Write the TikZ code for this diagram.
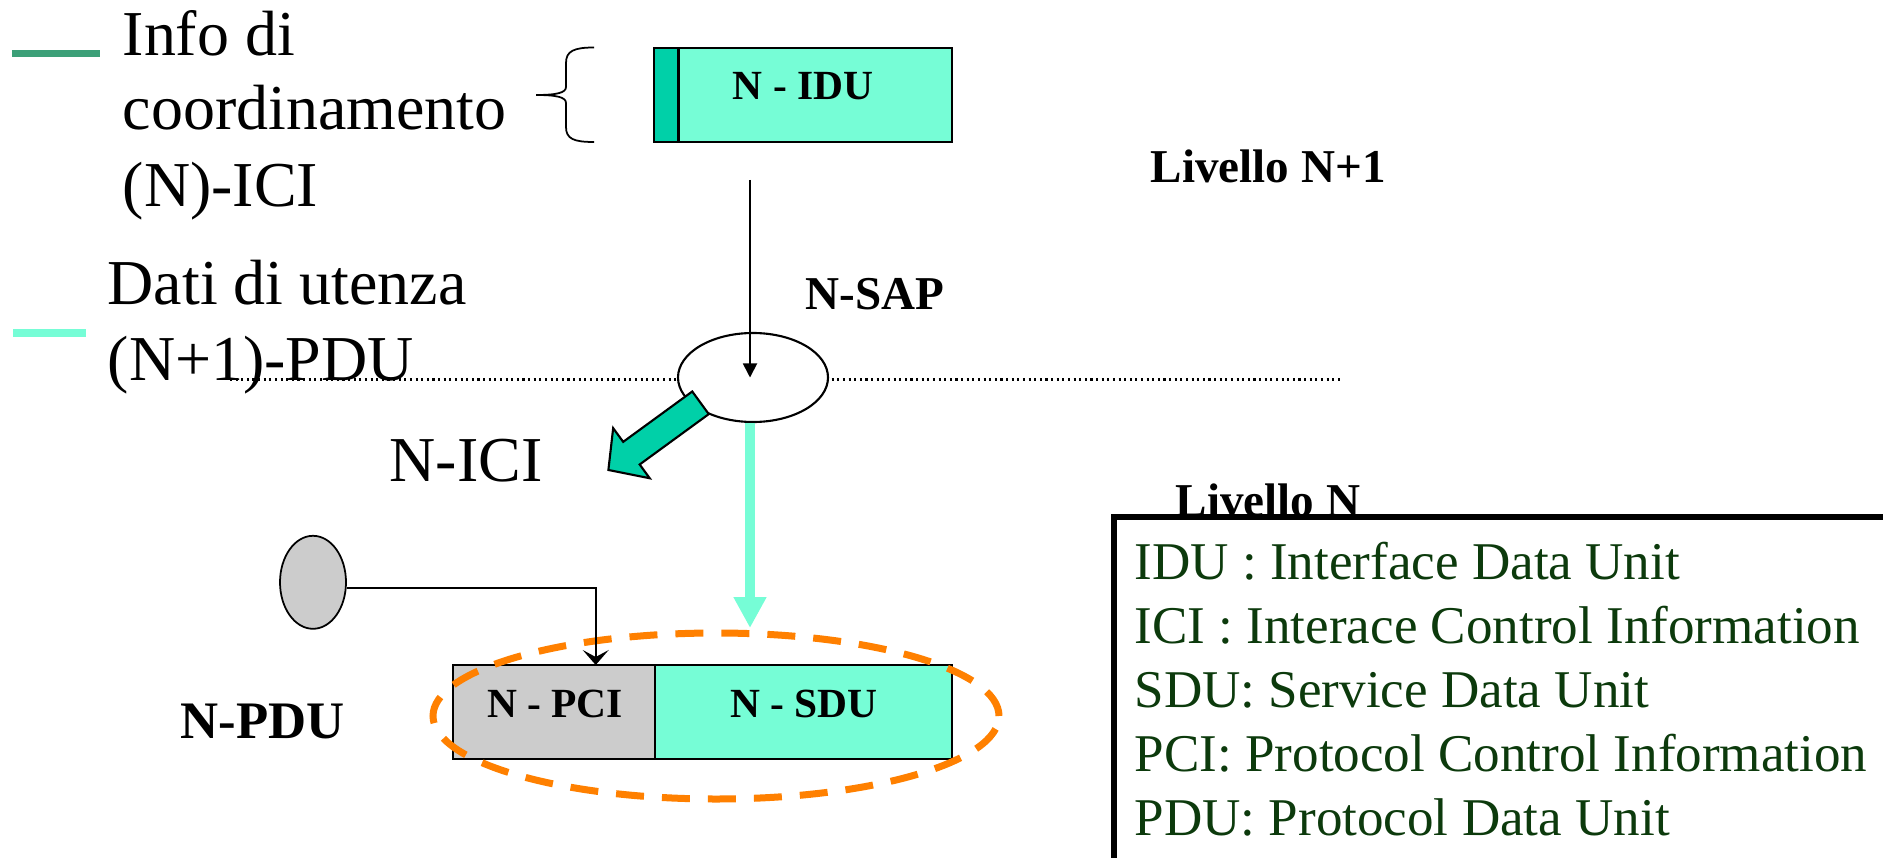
\documentclass[tikz,border=0pt]{standalone}
\usepackage{fontspec}
\setmainfont{Liberation Serif}
\usepackage{xcolor}
\usepackage{tikz}
\usetikzlibrary{arrows.meta,shapes.geometric}
\definecolor{sduaqua}{RGB}{118,253,214}
\definecolor{icigreen}{RGB}{0,208,168}
\definecolor{swatchgreen}{RGB}{60,160,120}
\definecolor{pcigray}{RGB}{204,204,204}
\definecolor{ringorange}{RGB}{255,128,0}
\definecolor{legendgreen}{RGB}{12,58,12}
\tikzset{% 
  big text/.style={%
    anchor=base west,
    inner sep=0pt,
    font=\fontsize{18.2}{21.6}\selectfont
  }
}
\tikzset{% 
  level label/.style={%
    anchor=base west,
    inner sep=0pt,
    font=\fontsize{13.4}{16}\selectfont\bfseries
  }
}
\tikzset{% 
  legend entry/.style={%
    anchor=base west,
    inner sep=0pt,
    text=legendgreen,
    font=\fontsize{15.1}{18}\selectfont
  }
}
\tikzset{% 
  unit box/.style={%
    draw,
    line width=0.6pt,
    rectangle,
    inner sep=0pt,
    outer sep=0pt,
    minimum height=0.94cm
  }
}
\tikzset{% 
  box label/.style={%
    inner sep=0pt,
    font=\fontsize{11.8}{14}\selectfont\bfseries
  }
}
\tikzset{% 
  control arrow/.style={%
    line width=0.5pt,
    -{Triangle[width=0.14cm,length=0.14cm]}
  }
}
\tikzset{% 
  pci arrow/.style={%
    line width=0.5pt,
    -{Stealth[width=0.26cm,length=0.15cm,inset=0.07cm]}
  }
}
\tikzset{% 
  sdu arrow/.style={%
    draw=sduaqua,
    line width=0.10cm,
    -{Triangle[width=0.31cm,length=0.31cm]}
  }
}
\tikzset{% 
  ici arrow/.style={%
    draw=black,
    fill=icigreen,
    line width=0.6pt,
    line join=miter
  }
}
\tikzset{% 
  pdu ring/.style={%
    ellipse,
    draw=ringorange,
    line width=0.07cm,
    dash pattern=on 0.28cm off 0.18cm,
    inner sep=0pt
  }
}

\begin{document}
\begin{tikzpicture}
  \useasboundingbox (0,0) rectangle (18.83,8.57);
  \clip (0,0) rectangle (18.83,8.57);
  % legenda
  \draw [line width=0.07cm,swatchgreen] (0.12,8.035) -- (1.00,8.035);
  \node [big text] (info) at (1.22,8.01) {Info di};
  \node [big text] (coord) at (1.22,7.27) {coordinamento};
  \node [big text] (nici) at (1.22,6.50) {(N)-ICI};
  \draw [line width=0.08cm,sduaqua] (0.13,5.24) -- (0.86,5.24);
  \node [big text] (dati) at (1.07,5.52) {Dati di utenza};
  \node [big text] (npdu) at (1.07,4.76) {(N+1)-PDU};
  \draw [line width=0.5pt] (5.94,8.095) .. controls (5.74,8.095) and (5.66,8.06) .. (5.66,7.94)
    -- (5.66,7.70) .. controls (5.66,7.64) and (5.56,7.62) .. (5.36,7.62)
    .. controls (5.56,7.62) and (5.66,7.60) .. (5.66,7.54)
    -- (5.66,7.30) .. controls (5.66,7.18) and (5.74,7.15) .. (5.94,7.15);
  % livello N+1
  \node [unit box,fill=sduaqua,minimum width=2.98cm] (idu) at (8.03,7.62) {};
  \draw [fill=icigreen,line width=0.6pt] (idu.north west) rectangle ([xshift=0.245cm]idu.south west);
  \node [box label] (idutext) at (8.03,7.705) {N - IDU};
  \node [level label] (upper) at (11.50,6.74) {Livello N+1};
  \node [level label] (saptext) at (8.05,5.48) {N-SAP};
  % confine tra i livelli
  \draw [densely dotted,line width=0.6pt] (2.30,4.775) -- (13.43,4.775);
  \node [ellipse,draw,fill=white,line width=0.6pt,inner sep=0pt,
    minimum width=1.50cm,minimum height=0.89cm] (sap) at (7.53,4.795) {};
  \coordinate (sapin) at (7.50,6.77);
  \draw [control arrow] (sapin) -- ([xshift=-0.03cm]sap.center);
  \begin{scope}[shift={(7.005,4.542)},rotate=216.1]
    \draw [ici arrow] (0,0.14) -- (0.855,0.14) -- (0.855,0.31) -- (1.14,0)
      -- (0.855,-0.31) -- (0.855,-0.14) -- (0,-0.14) -- cycle;
  \end{scope}
  \node [big text] (icitext) at (3.89,3.76) {N-ICI};
  % livello N
  \node [unit box,fill=pcigray,minimum width=2.02cm] (pci) at (5.537,1.45) {};
  \node [unit box,fill=sduaqua,minimum width=2.973cm,anchor=west] (sdu) at (pci.east) {};
  \node [box label] (pcitext) at (5.55,1.53) {N - PCI};
  \node [box label] (sdutext) at (8.04,1.53) {N - SDU};
  \node [pdu ring,minimum width=5.66cm,minimum height=1.66cm] (ring) at (7.16,1.41) {};
  \coordinate (sduin) at (7.50,2.29);
  \draw [sdu arrow] ([xshift=-0.03cm]sap.south) -- (sduin);
  \node [ellipse,draw,fill=pcigray,line width=0.5pt,inner sep=0pt,
    minimum width=0.66cm,minimum height=0.93cm] (pcisrc) at (3.13,2.747) {};
  \draw [pci arrow] ([yshift=-0.06cm]pcisrc.east) -| ([xshift=0.42cm]pci.north);
  \node [level label,font=\fontsize{15}{18}\selectfont\bfseries] (pdutext) at (1.80,1.19) {N-PDU};
  \node [level label] (lower) at (11.75,3.41) {Livello N};
  % glossario
  \draw [line width=0.06cm] (11.14,-0.5) -- (11.14,3.405) -- (19.5,3.405);
  \foreach \entry [count=\i from 0] in {IDU : Interface Data Unit,
      ICI : Interace Control Information,
      SDU: Service Data Unit,
      PCI: Protocol Control Information,
      PDU: Protocol Data Unit}
    \node [legend entry] (gloss\i) at (11.34,2.78-0.64*\i) {\entry};
\end{tikzpicture}
\end{document}
